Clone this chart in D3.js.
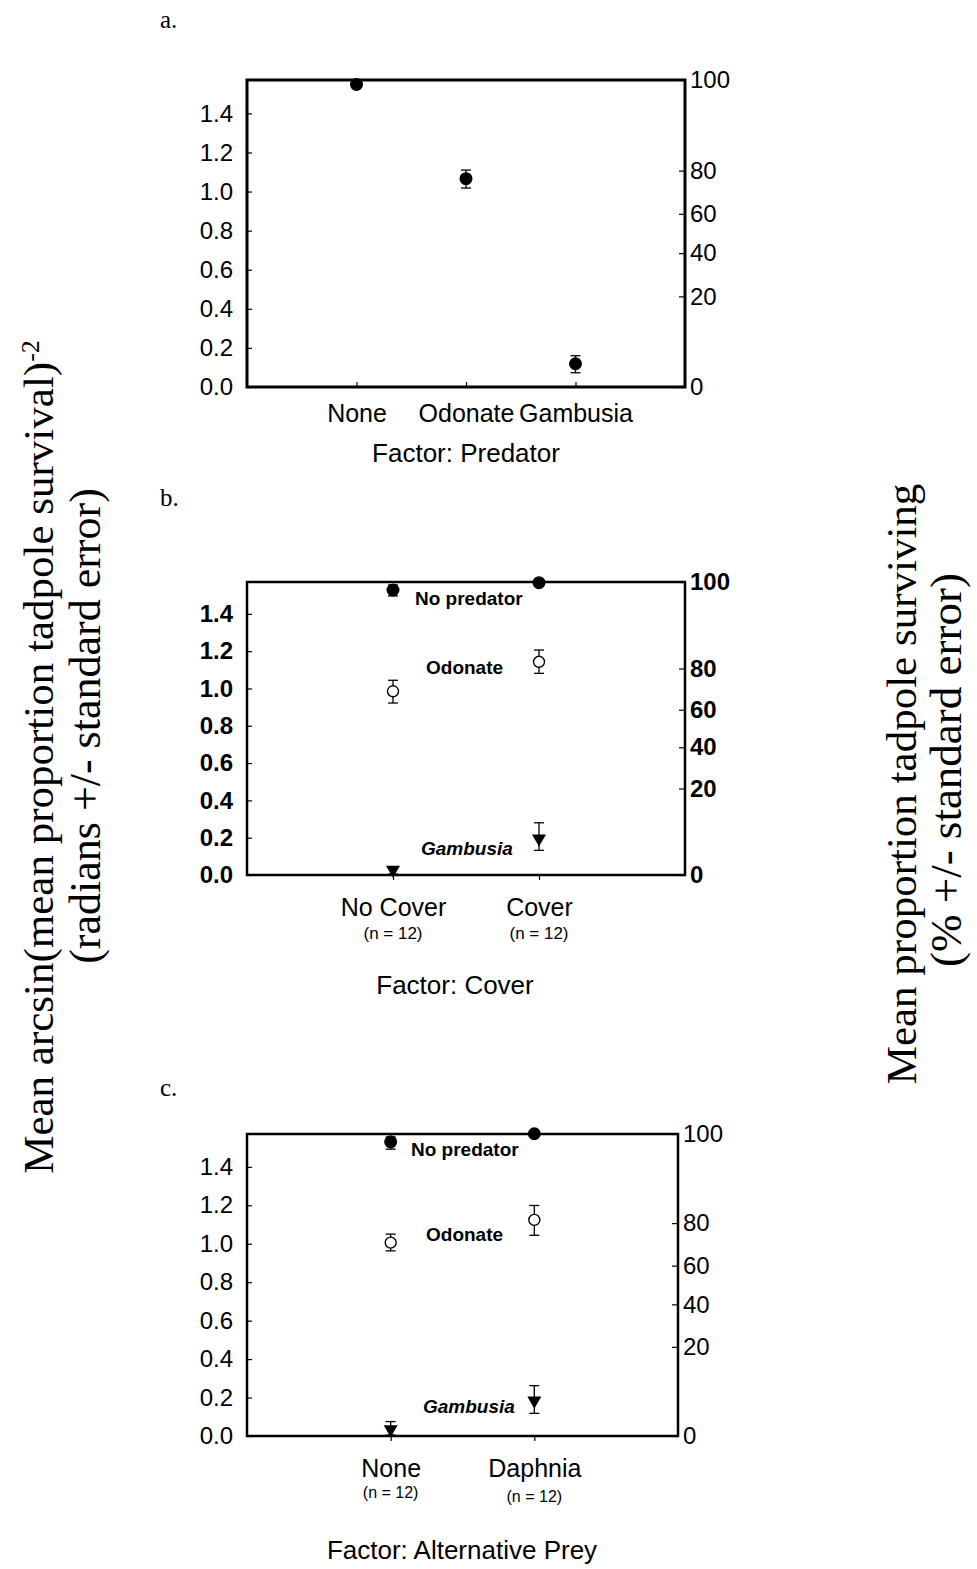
<!DOCTYPE HTML>
<html>
<head>
<meta charset="utf-8">
<title>tadpole survival</title>
<style>
  body { margin: 0; background: #fff; }
  svg { display: block; }
</style>
</head>
<body>
<div id="chart"></div>
<script src="https://cdnjs.cloudflare.com/ajax/libs/d3/7.8.5/d3.min.js"></script>
<script>
// tick values
var yTicks = [0, 0.2, 0.4, 0.6, 0.8, 1.0, 1.2, 1.4];
var pctTicks = [0, 20, 40, 60, 80, 100];

// a. predator
var catsA = ["None", "Odonate", "Gambusia"];
var meanA = [1.548, 1.066, 0.119];
var loA   = [1.535, 1.018, 0.073];
var hiA   = [1.560, 1.110, 0.160];

// b. cover
var catsB = ["No Cover", "Cover"];
var noPredB = [1.528, 1.567], noPredB_lo = [1.496, 1.567], noPredB_hi = [1.555, 1.567];
var odoB    = [0.985, 1.143], odoB_lo    = [0.922, 1.081], odoB_hi    = [1.044, 1.206];
var gamB    = [0.028, 0.196], gamB_lo    = [0.005, 0.132], gamB_hi    = [0.040, 0.280];

// c. alternative prey
var catsC = ["None", "Daphnia"];
var noPredC = [1.530, 1.572], noPredC_lo = [1.492, 1.572], noPredC_hi = [1.555, 1.572];
var odoC    = [1.006, 1.124], odoC_lo    = [0.963, 1.044], odoC_hi    = [1.050, 1.199];
var gamC    = [0.035, 0.184], gamC_lo    = [0.005, 0.118], gamC_hi    = [0.075, 0.262];

var seriesNames = ["No predator", "Odonate", "Gambusia"];
var nLabel = "(n = 12)";

var SANS = "'Liberation Sans', Arial, sans-serif";
var SERIF = "'Liberation Serif', 'Times New Roman', serif";

var svg = d3.select("#chart").append("svg")
  .attr("width", 977).attr("height", 1569);

function toRad(p) { return Math.asin(Math.sqrt(p / 100)); }

function drawPanel(p, cats, series) {
  var g = svg.append("g");
  var x = d3.scalePoint().domain(cats).range([p.x0, p.x1]).padding(1);
  var y = d3.scaleLinear().domain([0, Math.PI / 2]).range([p.y1, p.y0]);

  var gl = g.append("g")
    .attr("transform", "translate(" + p.x0 + ",0)")
    .call(d3.axisLeft(y).tickValues(yTicks).tickFormat(d3.format(".1f"))
      .tickSize(-5).tickPadding(14));
  var gr = g.append("g")
    .attr("transform", "translate(" + p.x1 + ",0)")
    .call(d3.axisRight(y).tickValues(pctTicks.map(toRad))
      .tickFormat(function(d, i){ return pctTicks[i]; })
      .tickSize(-6).tickPadding(5));
  var gb = g.append("g")
    .attr("transform", "translate(0," + p.y1 + ")")
    .call(d3.axisBottom(x).tickSize(p.xTick).tickPadding(p.xPad));

  [gl, gr, gb].forEach(function(a){
    a.select(".domain").remove();
    a.selectAll(".tick line").attr("stroke", "#000").attr("stroke-width", 1.2);
    a.selectAll("text").attr("fill", "#000").style("font-family", SANS)
      .style("font-size", "24px").style("font-weight", p.bold ? "bold" : "normal");
  });
  gb.selectAll("text").style("font-size", "25px").style("font-weight", "normal");

  g.append("rect")
    .attr("x", p.x0).attr("y", p.y0)
    .attr("width", p.x1 - p.x0).attr("height", p.y1 - p.y0)
    .attr("fill", "none").attr("stroke", "#000").attr("stroke-width", p.sw);

  series.forEach(function(s){
    var pts = cats.map(function(c, i){
      return {c: c, m: s.mean[i], lo: s.lo[i], hi: s.hi[i]};
    });
    var eb = g.append("g").selectAll("g").data(pts).enter().append("g")
      .attr("stroke", "#000").attr("stroke-width", 1.3);
    eb.append("line")
      .attr("x1", function(d){ return x(d.c); }).attr("x2", function(d){ return x(d.c); })
      .attr("y1", function(d){ return y(d.lo); }).attr("y2", function(d){ return y(d.hi); });
    eb.append("line")
      .attr("x1", function(d){ return x(d.c) - 5; }).attr("x2", function(d){ return x(d.c) + 5; })
      .attr("y1", function(d){ return y(d.lo); }).attr("y2", function(d){ return y(d.lo); });
    eb.append("line")
      .attr("x1", function(d){ return x(d.c) - 5; }).attr("x2", function(d){ return x(d.c) + 5; })
      .attr("y1", function(d){ return y(d.hi); }).attr("y2", function(d){ return y(d.hi); });

    if (s.type === "tri") {
      g.append("g").selectAll("path").data(pts).enter().append("path")
        .attr("d", d3.symbol().type(d3.symbolTriangle).size(85))
        .attr("transform", function(d){ return "translate(" + x(d.c) + "," + y(d.m) + ") rotate(180)"; })
        .attr("fill", "#000");
    } else {
      g.append("g").selectAll("circle").data(pts).enter().append("circle")
        .attr("cx", function(d){ return x(d.c); })
        .attr("cy", function(d){ return y(d.m); })
        .attr("r", s.type === "open" ? 5.5 : 5.8)
        .attr("fill", s.type === "open" ? "#fff" : "#000")
        .attr("stroke", "#000").attr("stroke-width", 1.4);
    }

    if (s.label) {
      g.append("text")
        .attr("x", p.x0 + s.lx).attr("y", y(s.ly))
        .attr("dy", "0.35em")
        .style("font-family", SANS).style("font-size", "19px")
        .style("font-weight", "bold").style("font-style", s.italic ? "italic" : "normal")
        .text(s.label);
    }
  });

  if (p.n) {
    g.append("g").selectAll("text").data(cats).enter().append("text")
      .attr("x", function(d){ return x(d); })
      .attr("y", function(d, i){ return p.nY + i * p.nStep; })
      .attr("text-anchor", "middle")
      .style("font-family", SANS).style("font-size", p.nSize)
      .text(nLabel);
  }

  g.append("text")
    .attr("x", p.fx).attr("y", p.fy).attr("text-anchor", "middle")
    .style("font-family", SANS).style("font-size", "26px")
    .text(p.factor);

  g.append("text")
    .attr("x", 160).attr("y", p.ly)
    .style("font-family", SERIF).style("font-size", "25px")
    .text(p.letter);
}

drawPanel({x0: 247, x1: 685, y0: 80, y1: 387, sw: 3, bold: false,
  xTick: -5, xPad: 17, factor: "Factor: Predator", fx: 466, fy: 462,
  letter: "a.", ly: 28},
  catsA,
  [{mean: meanA, lo: loA, hi: hiA, type: "filled"}]);

drawPanel({x0: 247, x1: 685, y0: 582, y1: 875, sw: 2.5, bold: true,
  xTick: 5, xPad: 18, n: true, nY: 939, nStep: 0, nSize: "17px",
  factor: "Factor: Cover", fx: 455, fy: 994, letter: "b.", ly: 506},
  catsB,
  [{mean: noPredB, lo: noPredB_lo, hi: noPredB_hi, type: "filled", label: seriesNames[0], lx: 168, ly: 1.485},
   {mean: odoB, lo: odoB_lo, hi: odoB_hi, type: "open", label: seriesNames[1], lx: 179, ly: 1.115},
   {mean: gamB, lo: gamB_lo, hi: gamB_hi, type: "tri", label: seriesNames[2], lx: 174, ly: 0.145, italic: true}]);

drawPanel({x0: 247, x1: 678, y0: 1134, y1: 1436, sw: 2.5, bold: false,
  xTick: 5, xPad: 18, n: true, nY: 1498, nStep: 4, nSize: "16px",
  factor: "Factor: Alternative Prey", fx: 462, fy: 1559, letter: "c.", ly: 1096},
  catsC,
  [{mean: noPredC, lo: noPredC_lo, hi: noPredC_hi, type: "filled", label: seriesNames[0], lx: 164, ly: 1.493},
   {mean: odoC, lo: odoC_lo, hi: odoC_hi, type: "open", label: seriesNames[1], lx: 179, ly: 1.05},
   {mean: gamC, lo: gamC_lo, hi: gamC_hi, type: "tri", label: seriesNames[2], lx: 176, ly: 0.156, italic: true}]);

// axis titles
var lt = svg.append("text")
  .attr("transform", "translate(53,757) rotate(-90)")
  .attr("text-anchor", "middle")
  .style("font-family", SERIF).style("font-size", "43px");
lt.append("tspan").text("Mean arcsin(mean proportion tadpole survival)");
lt.append("tspan").attr("dy", "-0.55em").style("font-size", "26px").text("-2");

svg.append("text")
  .attr("transform", "translate(100,726) rotate(-90)")
  .attr("text-anchor", "middle")
  .style("font-family", SERIF).style("font-size", "44px")
  .text("(radians +/- standard error)");

svg.append("text")
  .attr("transform", "translate(916,784) rotate(-90)")
  .attr("text-anchor", "middle")
  .style("font-family", SERIF).style("font-size", "43px")
  .text("Mean proportion tadpole surviving");

svg.append("text")
  .attr("transform", "translate(961,770) rotate(-90)")
  .attr("text-anchor", "middle")
  .style("font-family", SERIF).style("font-size", "45px")
  .text("(% +/- standard error)");
</script>
</body>
</html>
